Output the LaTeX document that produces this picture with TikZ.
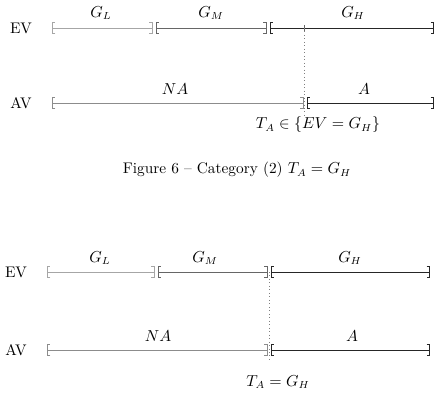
\documentclass[tikz,border=0pt]{standalone}
\usetikzlibrary{arrows.meta}
\begin{document}
\begin{tikzpicture}[x=0.69pt,y=-0.69pt,
  font=\fontsize{10.6}{12.7}\selectfont,
  br/.style={line width=0.5pt,{Bracket[width=8pt,length=2pt]}-{Bracket[width=8pt,length=2pt]}},
  lab/.style={inner sep=1pt},
  dot/.style={dotted, gray, line width=0.4pt}]
\useasboundingbox (0,0) rectangle (442,419);
% ---------- top diagram ----------
\node[lab] (ev1) at (21,28) {EV};
\node[lab] (av1) at (21,103) {AV};
\coordinate (a0) at (52,28);
\coordinate (a1l) at (152.5,28); \coordinate (a1r) at (155.5,28);
\coordinate (a2l) at (266.5,28); \coordinate (a2r) at (269.5,28);
\coordinate (a3) at (434,28);
\draw[br, black!35] (a0) -- (a1l);
\draw[br, black!60] (a1r) -- (a2l);
\draw[br, black!85] (a2r) -- (a3);
\node[lab] (gl1) at (101,13) {$G_L$};
\node[lab] (gm1) at (211,13) {$G_M$};
\node[lab] (gh1) at (353,13) {$G_H$};
\coordinate (b0) at (52,103);
\coordinate (b1l) at (303.5,103); \coordinate (b1r) at (306.5,103);
\coordinate (b2) at (434,103);
\draw[br, black!45] (b0) -- (b1l);
\draw[br, black!85] (b1r) -- (b2);
\node[lab] (na1) at (175,89) {$NA$};
\node[lab] (aa1) at (364,89) {$A$};
\coordinate (t1) at (304,28);
\coordinate (t1b) at (304,118);
\draw[black!60, line width=0.4pt] (304,25) -- (304,31);
\draw[dot] (t1) -- (t1b);
\node[lab] (ta1) at (318,125) {$T_A \in \{EV = G_H\}$};
\node[lab] (cap) at (237,170) {Figure 6 -- Category (2) $T_A = G_H$};
% ---------- bottom diagram ----------
\node[lab] (ev2) at (16,272) {EV};
\node[lab] (av2) at (16,350) {AV};
\coordinate (c0) at (47,272);
\coordinate (c1l) at (154.5,272); \coordinate (c1r) at (157.5,272);
\coordinate (c2l) at (267.5,272); \coordinate (c2r) at (270.5,272);
\coordinate (c3) at (430,272);
\draw[br, black!35] (c0) -- (c1l);
\draw[br, black!60] (c1r) -- (c2l);
\draw[br, black!85] (c2r) -- (c3);
\node[lab] (gl2) at (100,258) {$G_L$};
\node[lab] (gm2) at (205,258) {$G_M$};
\node[lab] (gh2) at (350,258) {$G_H$};
\coordinate (d0) at (47,350);
\coordinate (d1l) at (267.5,350); \coordinate (d1r) at (270.5,350);
\coordinate (d2) at (430,350);
\draw[br, black!45] (d0) -- (d1l);
\draw[br, black!85] (d1r) -- (d2);
\node[lab] (na2) at (158,336) {$NA$};
\node[lab] (aa2) at (352,336) {$A$};
\coordinate (t2) at (269,272);
\coordinate (t2b) at (269,362);
\draw[dot] (t2) -- (t2b);
\node[lab] (ta2) at (278,382) {$T_A = G_H$};
\end{tikzpicture}
\end{document}
